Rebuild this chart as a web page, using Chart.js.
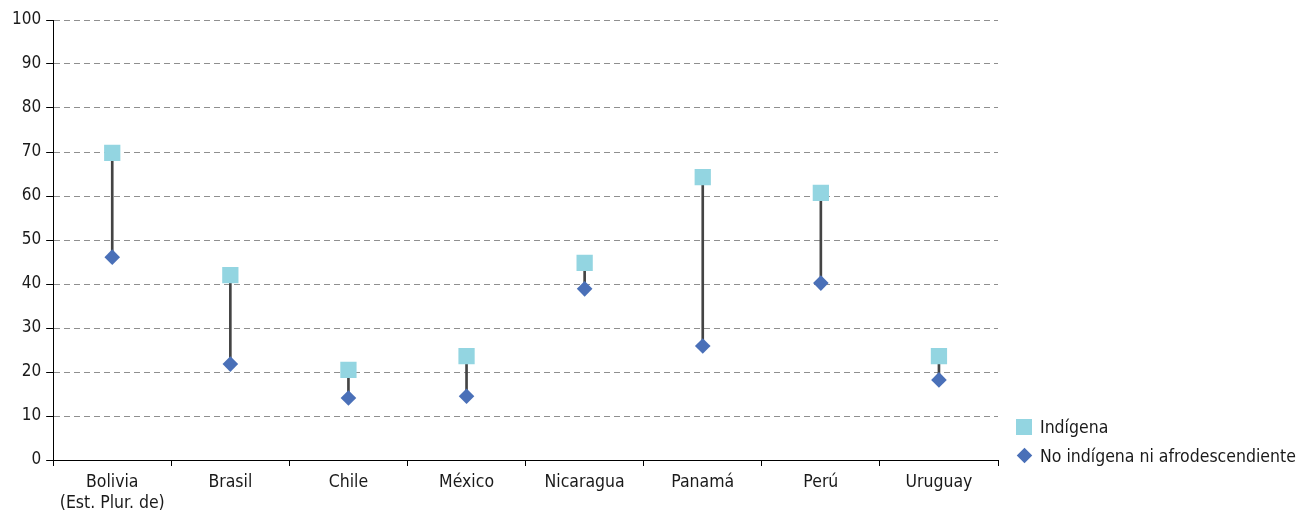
<!DOCTYPE html>
<html lang="es">
<head>
    <meta charset="UTF-8">
    <title>Indígena vs no indígena</title>
    <script src="https://cdn.jsdelivr.net/npm/chart.js"></script>
    <style>
        html, body {
            margin: 0;
            padding: 0;
            background: #ffffff;
        }
        .wrap {
            position: relative;
            width: 1299px;
            height: 512px;
        }
        .legend-row {
            position: absolute;
            left: 1016px;
            height: 20px;
            display: flex;
            align-items: center;
            font-family: 'DejaVu Sans Condensed', sans-serif;
            font-size: 17.5px;
            line-height: 20px;
            color: #1a1a1a;
            white-space: nowrap;
        }
        .marker {
            width: 16px;
            height: 16px;
            margin-right: 8px;
            position: relative;
        }
        .marker.square {
            background: #93d5e1;
        }
        .marker.diamond::after {
            content: '';
            position: absolute;
            left: 2.5px;
            top: 2.5px;
            width: 11px;
            height: 11px;
            background: #4a70b8;
            transform: rotate(45deg);
        }
    </style>
</head>
<body>
    <div class="wrap">
        <canvas id="chart" width="1299" height="512"></canvas>
        <div id="legend"></div>
    </div>
    <script>
        const paises = [['Bolivia', '(Est. Plur. de)'], 'Brasil', 'Chile', 'México', 'Nicaragua', 'Panamá', 'Perú', 'Uruguay'];
        const indigena = [69.8, 42.0, 20.5, 23.6, 44.8, 64.3, 60.7, 23.6];
        const noIndigena = [46.1, 21.8, 14.1, 14.5, 38.9, 25.9, 40.2, 18.2];
        const yMin = 0;
        const yMax = 100;
        const yStep = 10;

        // vertical connector between the two values of each country
        const rango = indigena.map((v, i) => [noIndigena[i], v]);

        Chart.defaults.font.family = "'DejaVu Sans Condensed', sans-serif";
        Chart.defaults.font.size = 17.5;
        Chart.defaults.color = '#1a1a1a';

        const chart = new Chart(document.getElementById('chart'), {
            type: 'bar',
            data: {
                labels: paises,
                datasets: [
                    {
                        type: 'line',
                        label: 'Indígena',
                        data: indigena,
                        showLine: false,
                        pointStyle: 'rect',
                        pointRadius: 11.5,
                        pointBorderWidth: 0,
                        backgroundColor: '#93d5e1',
                        borderColor: '#93d5e1',
                        order: 1
                    },
                    {
                        type: 'line',
                        label: 'No indígena ni afrodescendiente',
                        data: noIndigena,
                        showLine: false,
                        pointStyle: 'rectRot',
                        pointRadius: 7.8,
                        pointBorderWidth: 0,
                        backgroundColor: '#4a70b8',
                        borderColor: '#4a70b8',
                        order: 2
                    },
                    {
                        label: 'rango',
                        data: rango,
                        backgroundColor: '#444444',
                        barThickness: 2,
                        order: 3
                    }
                ]
            },
            options: {
                responsive: false,
                animation: false,
                layout: {
                    padding: { left: 7, right: 301, top: 20, bottom: 0 }
                },
                plugins: {
                    tooltip: { enabled: false },
                    legend: { display: false }
                },
                scales: {
                    x: {
                        offset: true,
                        afterFit: scale => { scale.height = 52; },
                        grid: {
                            offset: true,
                            drawOnChartArea: false,
                            tickLength: 6,
                            tickColor: '#000'
                        },
                        border: { color: '#000', width: 1 },
                        ticks: {
                            padding: 6,
                            maxRotation: 0,
                            autoSkip: false,
                            font: { size: 17.5, lineHeight: 1.2 }
                        }
                    },
                    y: {
                        min: yMin,
                        max: yMax,
                        grid: {
                            color: '#8f8f8f',
                            tickColor: '#000',
                            tickLength: 7,
                            tickBorderDash: []
                        },
                        border: { color: '#000', width: 1, dash: [6, 4] },
                        ticks: {
                            padding: 5,
                            stepSize: yStep,
                            autoSkip: false,
                            font: { size: 17 }
                        }
                    }
                }
            }
        });

        // legend as html, one row per point dataset
        const legendRows = [
            { text: chart.data.datasets[0].label, cls: 'square', top: 416.5 },
            { text: chart.data.datasets[1].label, cls: 'diamond', top: 445.5 }
        ];
        const legend = document.getElementById('legend');
        legendRows.forEach(r => {
            const row = document.createElement('div');
            row.className = 'legend-row';
            row.style.top = r.top + 'px';
            const m = document.createElement('span');
            m.className = 'marker ' + r.cls;
            const t = document.createElement('span');
            t.textContent = r.text;
            row.appendChild(m);
            row.appendChild(t);
            legend.appendChild(row);
        });
    </script>
</body>
</html>
